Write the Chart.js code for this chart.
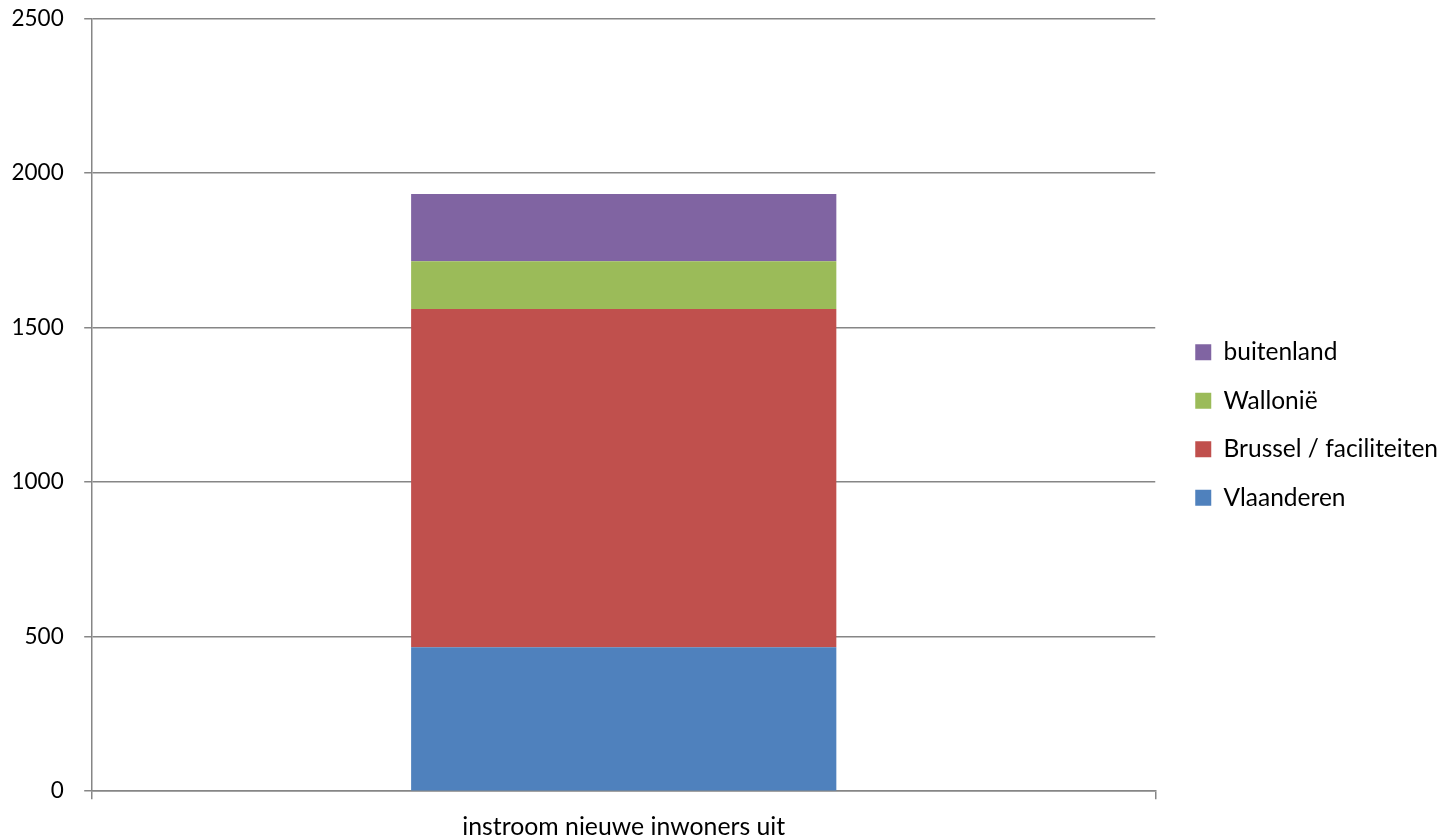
<!DOCTYPE html>
<html>
<head>
<meta charset="utf-8">
<script src="https://cdn.jsdelivr.net/npm/chart.js@4"></script>
<style>
html,body{margin:0;padding:0;background:#fff;}
#wrap{width:1437px;height:838px;position:relative;}
</style>
</head>
<body>
<div id="wrap"><canvas id="c"></canvas></div>
<script>
const categories = ["instroom nieuwe inwoners uit"];
const seriesNames = ["Vlaanderen", "Brussel / faciliteiten", "Wallonië", "buitenland"];
const vlaanderen = [466];
const brussel = [1094];
const wallonie = [155];
const buitenland = [217];
const seriesColors = ["#4F81BD", "#C0504D", "#9BBB59", "#8064A2"];
const yTicks = [0, 500, 1000, 1500, 2000, 2500];

const FONT = "Lato";
const FS = 24.8;
const values = [vlaanderen, brussel, wallonie, buitenland];

const legendShift = {
  id: 'legendShift',
  afterLayout(chart) {
    const lg = chart.legend;
    if (lg) { lg.left += 16; lg.right += 16; lg.top -= 2; lg.bottom -= 2; }
  }
};

new Chart(document.getElementById('c'), {
  type: 'bar',
  data: {
    labels: categories,
    datasets: seriesNames.map((n, i) => ({
      label: n,
      data: values[i],
      backgroundColor: seriesColors[i],
      borderWidth: 0,
      categoryPercentage: 1,
      barPercentage: 0.4
    }))
  },
  plugins: [legendShift],
  options: {
    responsive: true,
    maintainAspectRatio: false,
    animation: false,
    layout: { padding: { left: -9, top: 0, right: 5, bottom: -16 } },
    plugins: {
      tooltip: { enabled: false },
      legend: {
        position: 'right',
        align: 'center',
        reverse: true,
        labels: {
          boxWidth: 16,
          boxHeight: 16,
          padding: 24,
          color: '#000',
          font: { family: FONT, size: 24.5 }
        }
      }
    },
    scales: {
      x: {
        stacked: true,
        offset: true,
        grid: { display: true, drawOnChartArea: false, drawTicks: true, tickLength: 8, color: '#868686', lineWidth: 1.5, offset: true },
        border: { display: true, color: '#868686', width: 1.5 },
        ticks: { color: '#000', font: { family: FONT, size: FS, lineHeight: 1 }, padding: 15 }
      },
      y: {
        stacked: true,
        min: 0,
        max: 2500,
        afterBuildTicks: (s) => { s.ticks = yTicks.map(v => ({ value: v })); },
        afterFit: (s) => { s.paddingTop = 18.5; },
        grid: { color: '#868686', lineWidth: 1.5, tickLength: 8, drawTicks: true },
        border: { display: true, color: '#868686', width: 1.5 },
        ticks: { color: '#000', font: { family: FONT, size: 22.5 }, padding: 20.5, callback: (v) => String(v) }
      }
    }
  }
});
</script>
</body>
</html>
